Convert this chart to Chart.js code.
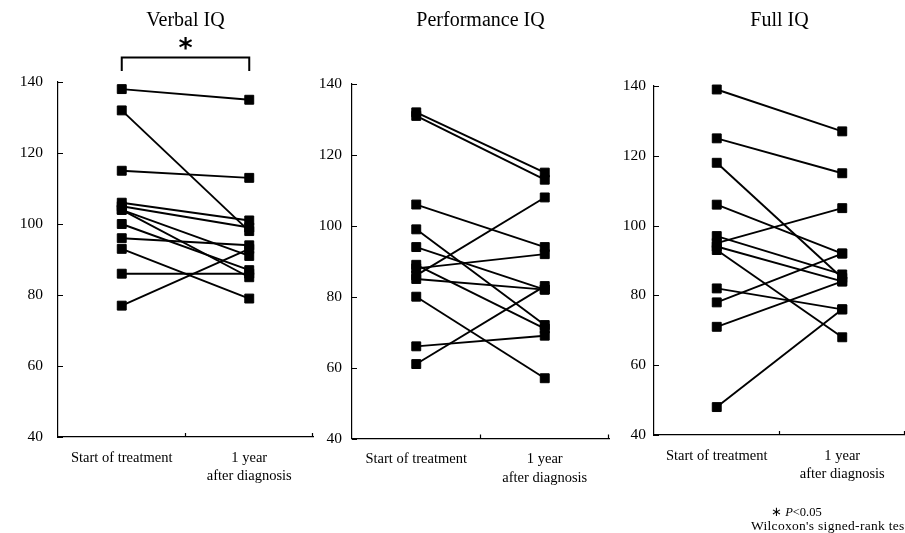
<!DOCTYPE html>
<html><head><meta charset="utf-8">
<script src="https://cdn.jsdelivr.net/npm/chart.js@4/dist/chart.umd.min.js"></script>
<style>
html,body{margin:0;padding:0;background:#fff;width:905px;height:533px;overflow:hidden;position:relative;}
canvas{position:absolute;top:0;}
.note{position:absolute;font-family:"Liberation Serif",serif;font-size:12.5px;color:#000;white-space:nowrap;line-height:1;}
</style></head><body>
<canvas id="c1" width="315" height="533" style="left:0px"></canvas>
<canvas id="c2" width="298" height="533" style="left:315px"></canvas>
<canvas id="c3" width="292" height="533" style="left:613px"></canvas>
<div class="note" style="left:771px;top:506px;">&#x2217; <i>P</i>&lt;0.05</div>
<div class="note" style="left:751px;top:519px;font-size:13.5px;letter-spacing:0.3px;">Wilcoxon's signed-rank test</div>
<script>
// ---- data ----
const categories = ['Start of treatment', ['1 year', 'after diagnosis']];
const yTicks = [40, 60, 80, 100, 120, 140];
const titles = ['Verbal IQ', 'Performance IQ', 'Full IQ'];

const verbalStart = [138, 132, 115, 106, 105, 104, 104, 100, 96, 93, 86, 77];
const verbalYear  = [135,  98, 113, 101,  99,  91,  85,  87, 94, 79, 86, 93];

const perfStart = [132, 131, 106, 99, 94, 89, 88, 86, 85, 80, 66, 61];
const perfYear  = [115, 113,  94, 72, 82, 71, 92, 108, 82, 57, 69, 83];

const fullStart = [139, 125, 118, 106, 97, 95, 94, 93, 82, 78, 71, 48];
const fullYear  = [127, 115,  85,  92, 86, 105, 84, 68, 76, 92, 84, 76];

const FONT = '"Liberation Serif", "Times New Roman", serif';

const deco = {
  id: 'deco',
  afterDraw(chart, args, o) {
    const {ctx, chartArea: a, scales: {x, y}} = chart;
    ctx.save();
    ctx.strokeStyle = '#000';
    ctx.lineWidth = 1.2;
    ctx.beginPath();
    yTicks.forEach(v => { const py = Math.round(y.getPixelForValue(v)) + 0.5; ctx.moveTo(a.left, py); ctx.lineTo(a.left + 5, py); });
    const mids = [(x.getPixelForValue(0) + x.getPixelForValue(1)) / 2, a.right - 0.5];
    mids.forEach(px => { ctx.moveTo(px, a.bottom); ctx.lineTo(px, a.bottom - 4); });
    ctx.stroke();
    ctx.fillStyle = '#000';
    ctx.font = '20px ' + FONT;
    ctx.textAlign = 'center';
    ctx.textBaseline = 'middle';
    ctx.fillText(o.title, (a.left + a.right) / 2, 21);
    if (o.sig) {
      const x0 = x.getPixelForValue(0), x1 = x.getPixelForValue(1);
      ctx.lineWidth = 2;
      ctx.beginPath();
      ctx.moveTo(x0, 71); ctx.lineTo(x0, 57.5); ctx.lineTo(x1, 57.5); ctx.lineTo(x1, 71);
      ctx.stroke();
      ctx.font = 'bold 27px "DejaVu Sans"';
      ctx.fillText('*', (x0 + x1) / 2, 50);
    }
    ctx.restore();
  }
};

function makeChart(id, start, year, o) {
  const datasets = start.map((s, i) => ({
    data: [s, year[i]],
    borderColor: '#000',
    borderWidth: 1.9,
    pointStyle: 'rect',
    pointRadius: 6.3,
    pointBackgroundColor: '#000',
    pointBorderColor: '#000',
    pointBorderWidth: 1,
    tension: 0,
    clip: false
  }));
  return new Chart(document.getElementById(id), {
    type: 'line',
    data: { labels: categories, datasets },
    plugins: [deco],
    options: {
      responsive: false,
      animation: false,
      devicePixelRatio: 1,
      layout: { autoPadding: false, padding: { left: 0, right: o.padR, top: o.top, bottom: o.padB } },
      plugins: { legend: { display: false }, tooltip: { enabled: false }, title: { display: false }, deco: o },
      scales: {
        x: {
          type: 'category', offset: true,
          grid: { display: false, drawTicks: false },
          border: { display: true, color: '#000', width: 1.2 },
          ticks: { color: '#000', font: { family: FONT, size: 14.5, lineHeight: 1.25 }, padding: 12, maxRotation: 0, autoSkip: false },
          afterFit: s => { s.height = 60; }
        },
        y: {
          min: 40, max: 140,
          grid: { display: false, drawTicks: false },
          border: { display: true, color: '#000', width: 1.2 },
          ticks: { stepSize: 20, color: '#000', font: { family: FONT, size: 15.5 }, padding: o.tickPad },
          afterFit: s => { s.width = o.yw; }
        }
      }
    }
  });
}

makeChart('c1', verbalStart, verbalYear, { title: titles[0], sig: true, yw: 58, padR: 2, top: 82, padB: 36, tickPad: 15 });
makeChart('c2', perfStart, perfYear, { title: titles[1], sig: false, yw: 37, padR: 4, top: 84, padB: 34.5, tickPad: 10 });
makeChart('c3', fullStart, fullYear, { title: titles[2], sig: false, yw: 41, padR: 0, top: 86, padB: 38, tickPad: 8 });
</script>
</body></html>
